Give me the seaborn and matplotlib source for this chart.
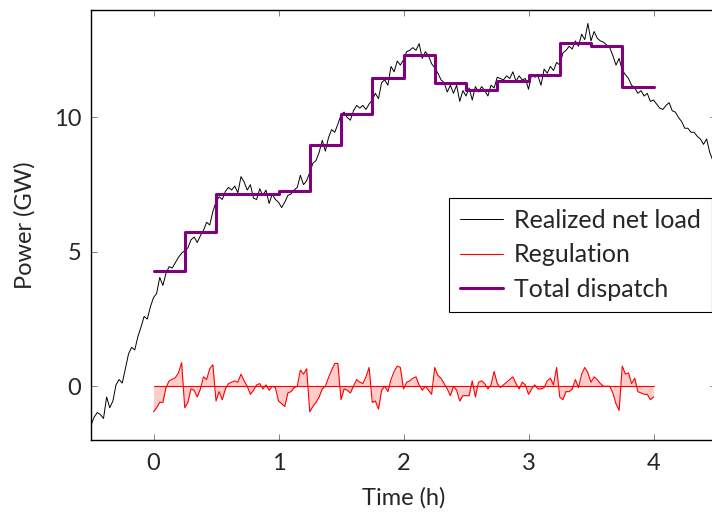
import numpy as np
import pandas as pd
import matplotlib
matplotlib.use("Agg")
import matplotlib.pyplot as plt
import seaborn as sns

# ---------------- data ----------------
# realized net load, sampled every 0.025 h from -0.5 h to 4.5 h
net_load = [
    -1.45, -1.15, -0.98, -1.05, -1.2, -0.4, -0.8, -0.55, 0.05, 0.25,
    0.12, 0.65, 1.2, 1.45, 1.35, 1.85, 2.2, 2.6, 2.5, 2.95,
    3.3, 3.45, 4.05, 3.75, 4.2, 4.45, 4.4, 4.6, 4.8, 4.95,
    5.05, 5.15, 5.45, 5.55, 5.35, 5.6, 5.8, 6.1, 6.0, 6.5,
    6.85, 7.05, 6.95, 7.25, 7.4, 7.3, 7.45, 7.2, 7.8, 7.6,
    7.3, 7.5, 7.0, 6.95, 7.35, 7.1, 7.3, 6.8, 7.15, 6.95,
    6.85, 6.65, 6.85, 7.1, 7.15, 7.3, 7.4, 7.85, 7.5, 7.65,
    7.95, 8.3, 8.4, 8.7, 9.15, 8.75, 9.25, 9.55, 9.45, 9.75,
    10.1, 10.2, 10.0, 9.9, 10.25, 10.45, 10.35, 10.45, 10.3, 10.5,
    10.65, 10.9, 10.7, 11.3, 11.4, 11.2, 11.9, 11.7, 12.1, 11.95,
    12.15, 12.45, 12.5, 12.6, 12.5, 12.75, 12.2, 12.45, 12.3, 12.0,
    11.85, 11.65, 11.4, 11.3, 10.95, 11.2, 10.9, 11.2, 10.6, 11.0,
    10.8, 11.1, 10.65, 11.15, 10.95, 11.15, 11.0, 10.8, 11.2, 11.1,
    11.5, 11.45, 11.4, 11.55, 11.45, 11.7, 11.35, 11.55, 11.4, 11.45,
    11.05, 11.6, 11.5, 11.55, 11.2, 11.8, 11.65, 11.9, 11.75, 12.05,
    11.95, 12.4, 12.5, 12.65, 12.55, 12.85, 12.65, 13.1, 12.9, 13.5,
    12.85, 13.2, 12.95, 12.85, 12.8, 12.7, 12.6, 12.3, 11.95, 12.2,
    11.75, 11.6, 11.45, 11.2, 11.1, 10.9, 11.0, 10.8, 10.9, 10.6,
    10.65, 10.5, 10.35, 10.3, 10.45, 10.55, 10.25, 10.2, 10.0, 9.85,
    9.6, 9.6, 9.45, 9.45, 9.3, 9.2, 9.0, 9.2, 8.7, 8.4,
    8.1,
]

# regulation, sampled every 0.025 h from 0 h to 4 h
regulation = [
    -0.95, -0.8, -0.6, -0.6, -0.05, 0.2, 0.26, 0.32, 0.5, 0.88,
    -0.8, -0.6, -0.1, -0.15, -0.4, -0.1, 0.35, 0.25, 0.65, 0.8,
    -0.55, -0.2, -0.5, -0.1, 0.1, 0.15, 0.2, 0.15, 0.45, 0.2,
    0.0, -0.3, -0.15, 0.05, 0.1, -0.1, 0.05, -0.15, 0.0, -0.05,
    -0.55, -0.65, -0.75, -0.25, -0.2, -0.05, 0.0, 0.6, 0.45, 0.65,
    -0.95, -0.75, -0.6, -0.4, -0.1, 0.0, 0.32, 0.6, 0.85, 0.85,
    -0.5, -0.1, -0.15, -0.25, 0.0, 0.25, 0.15, 0.1, 0.35, 0.7,
    -0.6, -0.55, -0.85, -0.15, 0.0, -0.2, 0.25, 0.55, 0.75, 0.7,
    -0.1, 0.15, 0.2, 0.3, 0.35, 0.05, -0.15, 0.0, -0.15, -0.3,
    0.7, 0.4, 0.3, 0.1, -0.1, -0.35, 0.0, -0.15, -0.55, -0.35,
    -0.35, -0.35, 0.2, -0.4, 0.15, 0.2, 0.1, -0.1, 0.05, 0.55,
    0.1, -0.05, 0.05, 0.15, 0.25, 0.35, 0.1, -0.1, 0.15, 0.05,
    -0.3, -0.1, 0.05, -0.1, -0.1, -0.05, 0.2, 0.3, 0.05, 0.7,
    -0.4, -0.5, -0.2, -0.2, -0.1, 0.25, -0.05, 0.45, 0.7, 0.5,
    0.15, 0.35, 0.25, 0.1, 0.0, 0.0, 0.0, -0.25, -0.65, -0.9,
    0.75, 0.45, 0.5, 0.1, 0.3, -0.2, -0.25, -0.3, -0.3, -0.5,
    -0.4,
]

# total dispatch, one value per 15-minute interval from 0 h to 4 h
dispatch = [4.3, 5.73, 7.17, 7.16, 7.27, 8.96, 10.14, 11.47,
            12.31, 11.3, 11.02, 11.37, 11.58, 12.77, 12.66, 11.13]

x_ticks = [0, 1, 2, 3, 4]
y_ticks = [0, 5, 10]
labels = ["Realized net load", "Regulation", "Total dispatch"]

# ---------------- build frames ----------------
load_t = np.linspace(-0.5, 4.5, len(net_load))
reg_t = np.linspace(0.0, 4.0, len(regulation))
disp_t = np.linspace(0.0, 4.0, len(dispatch) + 1)

df_load = pd.DataFrame({"t": load_t, "p": net_load})
df_reg = pd.DataFrame({"t": reg_t, "p": regulation})
df_disp = pd.DataFrame({"t": disp_t, "p": list(dispatch) + [dispatch[-1]]})

# ---------------- style ----------------
sns.set_style("ticks")
plt.rcParams["font.family"] = ["Lato", "DejaVu Sans"]
plt.rcParams["font.size"] = 17

fig = plt.figure(figsize=(7.12, 5.14), dpi=100)
ax = fig.add_axes([91 / 712, 74 / 514, 625 / 712, 430 / 514])

sns.lineplot(data=df_load, x="t", y="p", ax=ax, color="black", lw=0.7,
             label=labels[0], sort=False, estimator=None)
ax.fill_between(df_reg["t"], df_reg["p"], 0, color="red", alpha=0.2, lw=0)
ax.plot([reg_t[0], reg_t[-1]], [0, 0], color="red", lw=0.8)
sns.lineplot(data=df_reg, x="t", y="p", ax=ax, color="red", lw=0.8,
             label=labels[1], sort=False, estimator=None)
sns.lineplot(data=df_disp, x="t", y="p", ax=ax, color="#800080", lw=2.2,
             label=labels[2], sort=False, estimator=None,
             drawstyle="steps-post")

ax.set_xlim(-0.5, 4.5)
ax.set_ylim(-2, 14)
ax.set_xticks(x_ticks)
ax.set_yticks(y_ticks)
ax.set_xlabel("Time (h)", labelpad=10)
ax.set_ylabel("Power (GW)", labelpad=13)
ax.tick_params(direction="in", length=4.5, width=0.7, color="0.5",
               top=True, right=True, labelsize=17)
ax.tick_params(axis="x", pad=9)
ax.tick_params(axis="y", pad=7)
for s in ax.spines.values():
    s.set_visible(True)
    s.set_color("black")
    s.set_linewidth(1.0)

leg = ax.legend(loc="upper left", bbox_to_anchor=(0.573, 0.563),
                frameon=True, fancybox=False, framealpha=1,
                edgecolor="black", fontsize=18, borderaxespad=0,
                handlelength=1.7, handletextpad=0.45, borderpad=0.45,
                labelspacing=0.45)
leg.get_frame().set_linewidth(0.8)

fig.savefig("out.png", dpi=100)
